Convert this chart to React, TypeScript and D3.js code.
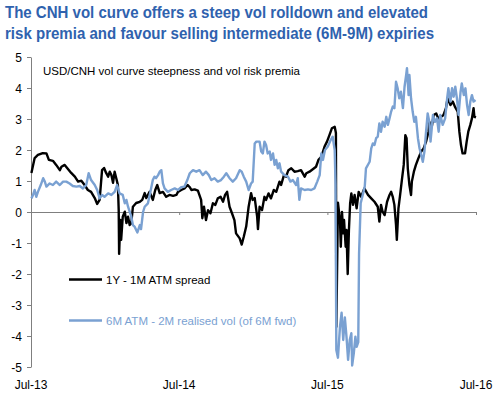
import React, { useRef, useEffect } from 'react';
import * as d3 from 'd3';

// 1Y - 1M ATM spread (black)
const spread1y1m: [string, number][] = [
  ['2013-07-02', 1.26], ['2013-07-10', 1.74], ['2013-07-18', 1.84], ['2013-07-30', 1.9], ['2013-08-08', 1.89],
  ['2013-08-14', 1.68], ['2013-08-24', 1.65], ['2013-09-01', 1.52], ['2013-09-10', 1.35], ['2013-09-14', 1.46],
  ['2013-09-22', 1.52], ['2013-09-30', 1.39], ['2013-10-08', 1.26], ['2013-10-17', 1.14], ['2013-10-25', 0.98],
  ['2013-11-02', 1.01], ['2013-11-10', 0.87], ['2013-11-18', 0.71], ['2013-11-26', 0.65], ['2013-12-05', 0.45],
  ['2013-12-11', 0.26], ['2013-12-17', 0.39], ['2013-12-23', 1.35], ['2013-12-28', 1.42], ['2014-01-02', 1.26],
  ['2014-01-07', 1.14], ['2014-01-11', 1.3], ['2014-01-15', 1.19], ['2014-01-19', 0.94], ['2014-01-23', 1.3],
  ['2014-01-27', 1.09], ['2014-01-31', 0.87], ['2014-02-02', 0.06], ['2014-02-03', -1.35], ['2014-02-06', -0.26],
  ['2014-02-08', -0.9], ['2014-02-12', -0.15], ['2014-02-17', 0.01], ['2014-02-21', -0.36], ['2014-02-25', -0.15],
  ['2014-03-01', -0.42], ['2014-03-05', -0.36], ['2014-03-09', 0.17], ['2014-03-17', 0.29], ['2014-03-26', 0.33],
  ['2014-04-01', 0.39], ['2014-04-07', 0.61], ['2014-04-11', 0.45], ['2014-04-19', 0.65], ['2014-04-27', 0.39],
  ['2014-05-03', 0.71], ['2014-05-08', 0.87], ['2014-05-14', 0.61], ['2014-05-22', 0.65], ['2014-05-30', 0.49],
  ['2014-06-07', 0.55], ['2014-06-16', 0.52], ['2014-06-24', 0.55], ['2014-06-28', 0.65], ['2014-07-06', 0.71],
  ['2014-07-14', 0.76], ['2014-07-22', 0.87], ['2014-07-27', 0.8], ['2014-07-31', 0.71], ['2014-08-08', 0.73],
  ['2014-08-16', 0.69], ['2014-08-24', 0.39], ['2014-08-27', -0.2], ['2014-08-31', 0.17], ['2014-09-05', -0.26],
  ['2014-09-10', 0.06], ['2014-09-16', -0.04], ['2014-09-22', 0.28], ['2014-09-28', 0.23], ['2014-10-04', 0.44],
  ['2014-10-11', 0.49], ['2014-10-17', 0.33], ['2014-10-22', 0.55], ['2014-10-27', 0.65], ['2014-11-02', 0.17],
  ['2014-11-08', -0.04], ['2014-11-14', -0.26], ['2014-11-18', -0.69], ['2014-11-27', -0.85], ['2014-12-02', -1.05],
  ['2014-12-07', -0.8], ['2014-12-13', -0.47], ['2014-12-19', 0.17], ['2014-12-25', 0.61], ['2014-12-29', 0.39],
  ['2015-01-03', 0.45], ['2015-01-09', -0.15], ['2015-01-11', -0.55], ['2015-01-15', 0.17], ['2015-01-21', 0.06],
  ['2015-01-27', 0.49], ['2015-01-31', 0.39], ['2015-02-06', 0.6], ['2015-02-12', 0.44], ['2015-02-19', 0.71],
  ['2015-02-25', 0.65], ['2015-03-05', 0.98], ['2015-03-09', 0.87], ['2015-03-16', 1.19], ['2015-03-21', 1.14],
  ['2015-03-27', 1.35], ['2015-04-03', 1.41], ['2015-04-11', 1.3], ['2015-04-19', 1.32], ['2015-04-27', 1.35],
  ['2015-05-06', 1.14], ['2015-05-10', 1.25], ['2015-05-18', 1.3], ['2015-05-26', 1.38], ['2015-06-03', 1.46],
  ['2015-06-09', 1.68], ['2015-06-16', 1.78], ['2015-06-24', 2.11], ['2015-06-30', 2.27], ['2015-07-06', 2.48],
  ['2015-07-12', 2.7], ['2015-07-19', 2.75], ['2015-07-22', 2.55], ['2015-07-23', -3.7], ['2015-07-27', 0.3],
  ['2015-08-01', -0.26], ['2015-08-03', -1.12], ['2015-08-06', 0.0], ['2015-08-09', -0.69], ['2015-08-11', -0.26],
  ['2015-08-15', -1.12], ['2015-08-17', -0.58], ['2015-08-20', -2.0], ['2015-08-23', -0.58], ['2015-08-26', 0.28],
  ['2015-08-29', 0.6], ['2015-09-02', 0.23], ['2015-09-06', 0.55], ['2015-09-11', 0.12], ['2015-09-16', 0.65],
  ['2015-09-22', 0.49], ['2015-09-30', 0.76], ['2015-10-09', 0.55], ['2015-10-17', 0.44], ['2015-10-25', 0.33],
  ['2015-11-02', 0.17], ['2015-11-06', -0.31], ['2015-11-10', 0.23], ['2015-11-14', 0.01], ['2015-11-19', -0.1],
  ['2015-11-25', 0.33], ['2015-12-01', 0.55], ['2015-12-05', 0.65], ['2015-12-09', 0.49], ['2015-12-13', 0.23],
  ['2015-12-17', -0.42], ['2015-12-19', -0.9], ['2015-12-23', 0.12], ['2015-12-28', 0.65], ['2016-01-01', 1.09],
  ['2016-01-05', 1.52], ['2016-01-09', 2.48], ['2016-01-12', 2.38], ['2016-01-15', 1.41], ['2016-01-19', 0.87],
  ['2016-01-23', 0.55], ['2016-01-25', 0.98], ['2016-01-30', 1.3], ['2016-02-04', 1.52], ['2016-02-10', 1.73],
  ['2016-02-17', 1.95], ['2016-02-23', 2.05], ['2016-02-29', 2.27], ['2016-03-06', 2.59], ['2016-03-08', 2.91],
  ['2016-03-14', 2.75], ['2016-03-19', 3.13], ['2016-03-25', 3.18], ['2016-03-30', 3.02], ['2016-04-06', 3.07],
  ['2016-04-12', 3.13], ['2016-04-18', 3.35], ['2016-04-22', 3.67], ['2016-04-29', 3.45], ['2016-05-05', 3.56],
  ['2016-05-10', 3.4], ['2016-05-17', 3.24], ['2016-05-21', 2.59], ['2016-05-25', 2.16], ['2016-05-29', 1.89],
  ['2016-06-04', 1.89], ['2016-06-08', 2.27], ['2016-06-12', 2.59], ['2016-06-17', 2.81], ['2016-06-21', 3.02],
  ['2016-06-25', 3.35], ['2016-06-27', 3.07], ['2016-07-01', 3.05],
];

// 6M ATM - 2M realised vol (of 6M fwd) (blue)
const riskPremia: [string, number][] = [
  ['2013-07-02', 0.44], ['2013-07-06', 0.55], ['2013-07-10', 0.71], ['2013-07-14', 0.49], ['2013-07-18', 0.65],
  ['2013-07-25', 0.87], ['2013-07-31', 1.09], ['2013-08-04', 0.98], ['2013-08-08', 0.82], ['2013-08-16', 0.92],
  ['2013-08-24', 0.87], ['2013-09-01', 0.98], ['2013-09-10', 0.87], ['2013-09-18', 0.98], ['2013-09-26', 0.98],
  ['2013-10-04', 0.92], ['2013-10-12', 0.84], ['2013-10-21', 0.82], ['2013-10-29', 0.84], ['2013-11-06', 0.76],
  ['2013-11-14', 0.87], ['2013-11-20', 1.25], ['2013-11-26', 1.03], ['2013-12-05', 0.87], ['2013-12-11', 0.71],
  ['2013-12-17', 0.44], ['2013-12-23', 0.55], ['2013-12-29', 0.49], ['2014-01-07', 0.6], ['2014-01-15', 0.55],
  ['2014-01-23', 0.65], ['2014-01-29', 0.87], ['2014-02-04', 0.6], ['2014-02-12', 0.55], ['2014-02-17', 0.28],
  ['2014-02-21', 0.39], ['2014-02-25', 0.17], ['2014-03-05', -0.15], ['2014-03-09', -0.42], ['2014-03-13', -0.47],
  ['2014-03-20', -0.66], ['2014-03-26', -0.42], ['2014-03-29', -0.55], ['2014-04-03', 0.0], ['2014-04-07', 0.17],
  ['2014-04-15', 0.28], ['2014-04-22', 0.71], ['2014-04-27', 1.03], ['2014-05-01', 1.14], ['2014-05-05', 1.09],
  ['2014-05-10', 1.19], ['2014-05-14', 1.3], ['2014-05-18', 1.35], ['2014-05-22', 0.92], ['2014-05-26', 0.76],
  ['2014-06-03', 0.65], ['2014-06-11', 0.71], ['2014-06-20', 0.76], ['2014-06-28', 0.71], ['2014-07-06', 0.8],
  ['2014-07-14', 0.82], ['2014-07-21', 1.03], ['2014-07-27', 1.25], ['2014-08-04', 1.35], ['2014-08-12', 1.3],
  ['2014-08-20', 1.35], ['2014-08-28', 1.19], ['2014-09-05', 1.3], ['2014-09-12', 1.19], ['2014-09-18', 1.03],
  ['2014-09-26', 1.09], ['2014-10-04', 0.98], ['2014-10-12', 1.03], ['2014-10-19', 1.14], ['2014-10-25', 1.25],
  ['2014-11-02', 1.09], ['2014-11-10', 0.98], ['2014-11-18', 1.09], ['2014-11-27', 1.35], ['2014-12-02', 1.3],
  ['2014-12-07', 1.14], ['2014-12-13', 0.98], ['2014-12-19', 0.71], ['2014-12-25', 0.92], ['2014-12-29', 0.98],
  ['2015-01-03', 2.21], ['2015-01-07', 2.27], ['2015-01-15', 2.27], ['2015-01-19', 1.95], ['2015-01-23', 1.89],
  ['2015-01-27', 2.27], ['2015-01-31', 2.16], ['2015-02-04', 1.89], ['2015-02-09', 1.95], ['2015-02-12', 1.68],
  ['2015-02-17', 1.89], ['2015-02-21', 1.52], ['2015-02-25', 1.68], ['2015-03-01', 1.41], ['2015-03-05', 1.57],
  ['2015-03-09', 1.3], ['2015-03-17', 1.19], ['2015-03-26', 1.14], ['2015-04-01', 0.98], ['2015-04-07', 1.03],
  ['2015-04-15', 0.87], ['2015-04-19', 1.09], ['2015-04-23', 0.39], ['2015-04-27', 0.76], ['2015-05-06', 0.71],
  ['2015-05-14', 0.73], ['2015-05-22', 0.71], ['2015-05-30', 0.76], ['2015-06-06', 0.98], ['2015-06-12', 1.19],
  ['2015-06-16', 1.89], ['2015-06-20', 1.68], ['2015-06-25', 2.0], ['2015-07-02', 2.11], ['2015-07-09', 2.32],
  ['2015-07-14', 2.43], ['2015-07-19', 2.0], ['2015-07-21', 0.9], ['2015-07-23', -4.45], ['2015-07-27', -4.7],
  ['2015-08-01', -3.7], ['2015-08-05', -3.25], ['2015-08-09', -4.13], ['2015-08-13', -3.4], ['2015-08-17', -4.02],
  ['2015-08-21', -4.77], ['2015-08-25', -4.13], ['2015-08-29', -3.91], ['2015-08-31', -4.95], ['2015-09-04', -4.56],
  ['2015-09-08', -4.02], ['2015-09-11', -4.35], ['2015-09-15', -4.2], ['2015-09-17', -1.33], ['2015-09-21', 0.28],
  ['2015-09-27', 0.6], ['2015-10-01', 0.82], ['2015-10-04', 1.41], ['2015-10-13', 1.62], ['2015-10-17', 2.05],
  ['2015-10-21', 2.21], ['2015-10-25', 2.16], ['2015-10-29', 2.38], ['2015-11-02', 2.43], ['2015-11-06', 2.86],
  ['2015-11-10', 2.59], ['2015-11-14', 2.91], ['2015-11-19', 2.75], ['2015-11-23', 3.07], ['2015-11-27', 2.81],
  ['2015-12-01', 3.02], ['2015-12-05', 3.24], ['2015-12-09', 3.4], ['2015-12-13', 3.35], ['2015-12-17', 4.2],
  ['2015-12-21', 3.99], ['2015-12-25', 3.67], ['2015-12-29', 3.88], ['2016-01-03', 3.35], ['2016-01-07', 4.04],
  ['2016-01-11', 4.42], ['2016-01-13', 4.64], ['2016-01-17', 3.77], ['2016-01-19', 4.42], ['2016-01-23', 3.67],
  ['2016-01-27', 3.24], ['2016-01-31', 2.91], ['2016-02-04', 3.07], ['2016-02-09', 2.38], ['2016-02-13', 2.05],
  ['2016-02-17', 1.84], ['2016-02-21', 1.62], ['2016-02-25', 1.95], ['2016-02-29', 2.59], ['2016-03-04', 3.18],
  ['2016-03-08', 2.91], ['2016-03-11', 2.27], ['2016-03-14', 2.7], ['2016-03-17', 3.13], ['2016-03-22', 2.91],
  ['2016-03-27', 3.02], ['2016-03-31', 2.59], ['2016-04-04', 3.13], ['2016-04-10', 2.81], ['2016-04-16', 3.02],
  ['2016-04-21', 3.67], ['2016-04-24', 3.99], ['2016-04-29', 3.56], ['2016-05-03', 3.99], ['2016-05-07', 3.72],
  ['2016-05-11', 4.04], ['2016-05-15', 3.67], ['2016-05-19', 3.13], ['2016-05-24', 3.88], ['2016-05-27', 4.15],
  ['2016-06-01', 3.77], ['2016-06-05', 3.99], ['2016-06-09', 3.45], ['2016-06-13', 3.13], ['2016-06-17', 3.56],
  ['2016-06-21', 3.77], ['2016-06-25', 3.56], ['2016-06-30', 3.61],
];

const yTicks = [-5, -4, -3, -2, -1, 0, 1, 2, 3, 4, 5];
const xTicks = ['2013-07-01', '2014-07-01', '2015-07-01', '2016-07-01'];

const titleLines = [
  'The CNH vol curve offers a steep vol rolldown and elevated',
  'risk premia and favour selling intermediate (6M-9M) expiries',
];
const subtitle = 'USD/CNH vol curve steepness and vol risk premia';
const legendLabels = ['1Y - 1M ATM spread', '6M ATM - 2M realised vol (of 6M fwd)'];

const BLACK = '#000000';
const BLUE = '#7aa1d2';
const TITLE_BLUE = '#2f62ae';
const AXIS_GREY = '#7f7f7f';
const FONT = "'Liberation Sans', Arial, sans-serif";

const parse = d3.timeParse('%Y-%m-%d');

export default function App() {
  const svgRef = useRef(null);

  const width = 502;
  const height = 399;

  const x = d3
    .scaleTime()
    .domain([parse(xTicks[0]) as Date, parse(xTicks[3]) as Date])
    .range([31, 476]);
  const y = d3.scaleLinear().domain([-5, 5]).range([367, 57]);

  useEffect(() => {
    if (!svgRef.current) return;
    const svg = d3.select(svgRef.current);

    // Y axis
    const yAxis = svg.select('.y-axis').attr('transform', 'translate(31,0)');
    yAxis.call(
      d3
        .axisLeft(y)
        .tickValues(yTicks)
        .tickSize(4)
        .tickSizeOuter(0)
        .tickFormat((d: any) => String(d)) as any
    );
    yAxis.select('.domain').attr('stroke', AXIS_GREY);
    yAxis.selectAll('.tick line').attr('stroke', AXIS_GREY);
    yAxis
      .selectAll('.tick text')
      .attr('x', -9)
      .attr('dy', '0.36em')
      .attr('fill', '#000')
      .style('font-family', FONT)
      .style('font-size', '12px');

    // X axis on the zero line
    const xAxis = svg.select('.x-axis').attr('transform', `translate(0,${y(0)})`);
    xAxis.call(
      d3
        .axisBottom(x)
        .tickValues(xTicks.map((t) => parse(t) as Date))
        .tickSize(3)
        .tickSizeOuter(0)
        .tickFormat(() => '') as any
    );
    xAxis.select('.domain').attr('stroke', AXIS_GREY);
    xAxis.selectAll('.tick line').attr('stroke', AXIS_GREY);

    const line = d3
      .line<[string, number]>()
      .x((d) => x(parse(d[0]) as Date))
      .y((d) => y(d[1]));

    svg
      .select('.series')
      .selectAll('path')
      .data([
        { data: spread1y1m, color: BLACK },
        { data: riskPremia, color: BLUE },
      ])
      .join('path')
      .attr('d', (d: any) => line(d.data))
      .attr('fill', 'none')
      .attr('stroke', (d: any) => d.color)
      .attr('stroke-width', 2.4)
      .attr('stroke-linejoin', 'round');
  }, []);

  return (
    <svg
      ref={svgRef}
      width={width}
      height={height}
      style={{ position: 'absolute', left: 0, top: 0, background: '#fff' }}
    >
      <rect width={width} height={height} fill="#fff" />
      <g fontFamily="'Liberation Sans Narrow', 'Arial Narrow', 'Liberation Sans', Arial, sans-serif" fontWeight="bold" fontSize={16} fill={TITLE_BLUE}>
        <text x={5} y={17.5} textLength={423} lengthAdjust="spacingAndGlyphs">
          {titleLines[0]}
        </text>
        <text x={5} y={39} textLength={429} lengthAdjust="spacingAndGlyphs">
          {titleLines[1]}
        </text>
      </g>
      <text x={43} y={75} fontFamily={FONT} fontSize={11.5} fill="#000">
        {subtitle}
      </text>
      <g className="y-axis" />
      <g className="x-axis" />
      <g className="series" />
      <g fontFamily={FONT} fontSize={12} fill="#000" textAnchor="middle">
        {xTicks.map((t) => (
          <text key={t} x={x(parse(t) as Date)} y={389}>
            {d3.timeFormat('%b-%y')(parse(t) as Date)}
          </text>
        ))}
      </g>
      <g fontFamily={FONT} fontSize={11.5}>
        <line x1={69} x2={102} y1={279.5} y2={279.5} stroke={BLACK} strokeWidth={2.4} />
        <text x={106} y={283.5} fill="#000">{legendLabels[0]}</text>
        <line x1={69} x2={102} y1={320.5} y2={320.5} stroke={BLUE} strokeWidth={2.4} />
        <text x={106} y={324.5} fill={BLUE}>{legendLabels[1]}</text>
      </g>
    </svg>
  );
}
